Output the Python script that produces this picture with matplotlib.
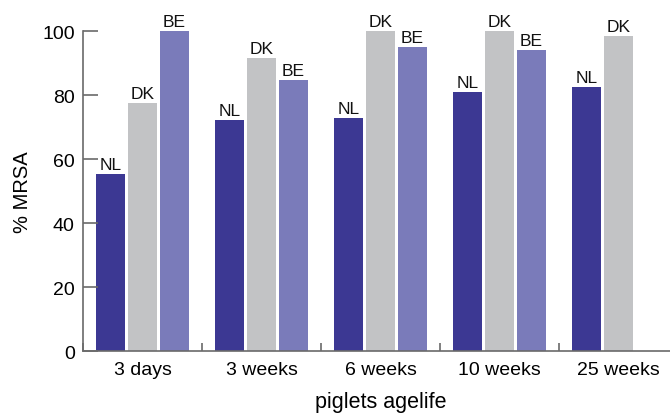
import matplotlib.pyplot as plt
import numpy as np

plt.rcParams['font.family'] = ['Liberation Sans', 'DejaVu Sans']

# data
ages = ["3 days", "3 weeks", "6 weeks", "10 weeks", "25 weeks"]
countries = ["NL", "DK", "BE"]
nl = [55.4, 72.2, 72.8, 81.0, 82.5]
dk = [77.5, 91.6, 100, 100, 98.4]
be = [100, 84.7, 95.0, 94.1, None]   # no BE data at 25 weeks

colors = {"NL": "#3c3893", "DK": "#c2c3c5", "BE": "#7a7bba"}
series = {"NL": nl, "DK": dk, "BE": be}

fig = plt.figure(figsize=(6.7, 4.14), dpi=100)
ax = fig.add_axes([0.1239, 0.149, 0.888, 0.7737])

x = np.arange(len(ages))
step = 0.269
barWidth = 0.244
for k, name in enumerate(countries):
    offset = (k - 1) * step
    for i, val in enumerate(series[name]):
        if val is None:
            continue
        ax.bar(x[i] + offset, val, width=barWidth, color=colors[name],
               clip_on=False)
        ax.annotate(name, (x[i] + offset, val), xytext=(0, 1.5),
                    textcoords='offset points', ha='center', va='bottom',
                    fontsize=12.5, color='#111111')

ax.set_xlim(-0.5, 4.5)
ax.set_ylim(0, 100)
ax.set_yticks([0, 20, 40, 60, 80, 100])
ax.set_xticks(x)
ax.set_xticklabels(ages)
ax.set_xticks(np.arange(-0.5, 5, 1), minor=True)

for side in ['top', 'right']:
    ax.spines[side].set_visible(False)
for side in ['left', 'bottom']:
    ax.spines[side].set_color('#6a6a6a')
    ax.spines[side].set_linewidth(1.2)

ax.tick_params(axis='y', direction='in', length=11, width=1.2, color='#6a6a6a',
               labelsize=14, pad=6)
ax.tick_params(axis='x', which='major', length=0, labelsize=14, pad=7)
ax.tick_params(axis='x', which='minor', direction='in', length=6, width=1.2,
               color='#6a6a6a')

ax.set_ylabel("% MRSA", fontsize=14.5, labelpad=7)
ax.set_xlabel("piglets agelife", fontsize=15.5, labelpad=9)

fig.savefig("out.png", dpi=100)
